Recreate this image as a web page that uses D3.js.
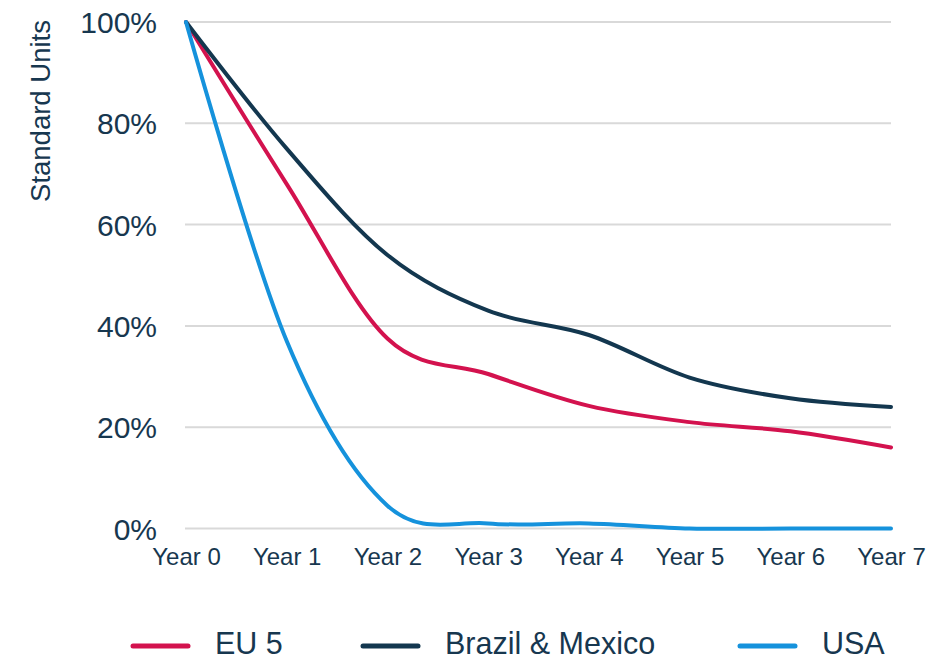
<!DOCTYPE html>
<html>
<head>
<meta charset="utf-8">
<script src="https://cdn.jsdelivr.net/npm/d3@7"></script>
<style>
  html, body { margin: 0; padding: 0; background: #fff; }
  svg { display: block; font-family: "Liberation Sans", Arial, sans-serif; }
</style>
</head>
<body>
<svg id="chart" width="949" height="661"></svg>
<script>
const years = ["Year 0", "Year 1", "Year 2", "Year 3", "Year 4", "Year 5", "Year 6", "Year 7"];
const eu5 = [100, 68, 37.5, 30.5, 24.2, 21, 19.2, 16];
const brazilMexico = [100, 75, 54, 43, 38.2, 29.8, 25.7, 24];
const usa = [100, 37, 4.5, 1, 1, 0, 0, 0];
const yTicks = [0, 20, 40, 60, 80, 100];
const seriesNames = ["EU 5", "Brazil & Mexico", "USA"];
const seriesColors = ["#D3124E", "#13374F", "#1592DC"];

const series = [eu5, brazilMexico, usa].map((vals, i) => ({
  name: seriesNames[i], color: seriesColors[i], values: vals
}));

const svg = d3.select("#chart");
const textColor = "#17374F";

const x = d3.scalePoint().domain(years).range([186, 891]);
const y = d3.scaleLinear().domain([0, 100]).range([528.5, 22]);

// gridlines
svg.append("g").selectAll("line").data(yTicks).join("line")
  .attr("x1", 185).attr("x2", 891)
  .attr("y1", d => y(d)).attr("y2", d => y(d))
  .attr("stroke", "#D9D9D9").attr("stroke-width", 2);

// y axis labels
const yAxis = d3.axisLeft(y).tickValues(yTicks).tickFormat(d => d + "%").tickSize(0).tickPadding(0);
const gy = svg.append("g").attr("transform", "translate(157,0)").call(yAxis);
gy.select(".domain").remove();
gy.selectAll("text").attr("fill", textColor).style("font-size", "30px")
  .style("font-family", "'Liberation Sans', Arial, sans-serif").attr("dy", "0.35em");

// x axis labels
const xAxis = d3.axisBottom(x).tickSize(0).tickPadding(0);
const gx = svg.append("g").attr("transform", "translate(0,565)").call(xAxis);
gx.select(".domain").remove();
gx.selectAll("text").attr("fill", textColor).style("font-size", "24px")
  .style("font-family", "'Liberation Sans', Arial, sans-serif").attr("dy", "0").attr("y", 0);

// y axis title
svg.append("text")
  .attr("transform", "translate(50,111) rotate(-90)")
  .attr("text-anchor", "middle")
  .attr("fill", textColor).style("font-size", "27.5px")
  .text("Standard Units");

// lines
const line = d3.line()
  .x((d, i) => x(years[i]))
  .y(d => y(d))
  .curve(d3.curveCardinal.tension(0));

svg.append("g").selectAll("path").data(series).join("path")
  .attr("d", d => line(d.values))
  .attr("fill", "none")
  .attr("stroke", d => d.color)
  .attr("stroke-width", 4)
  .attr("stroke-linejoin", "round")
  .attr("stroke-linecap", "round");

// legend
const legendX = [133, 363, 740];
const lg = svg.append("g").selectAll("g").data(series).join("g")
  .attr("transform", (d, i) => `translate(${legendX[i]},646)`);
lg.append("line").attr("x1", 0).attr("x2", 55).attr("y1", 0).attr("y2", 0)
  .attr("stroke", d => d.color).attr("stroke-width", 5).attr("stroke-linecap", "round");
lg.append("text").attr("x", 82).attr("y", 8)
  .attr("fill", textColor).style("font-size", "30.5px")
  .text(d => d.name);
</script>
</body>
</html>
